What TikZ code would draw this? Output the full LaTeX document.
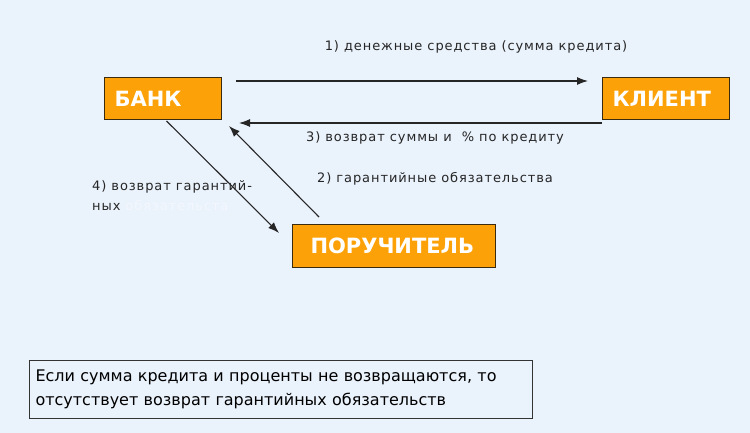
\documentclass[tikz,border=0pt]{standalone}
\usepackage{fontspec}
\setmainfont{DejaVu Sans}
\newfontfamily\lblfont[LetterSpace=7]{DejaVu Sans}
\usetikzlibrary{arrows.meta}
\definecolor{bg}{HTML}{EAF2FC}
\definecolor{boxor}{HTML}{FCA208}
\definecolor{boxline}{HTML}{3A2A10}
\definecolor{ghost}{HTML}{F4F8FE}
\tikzset{
  actor/.style={draw=boxline, line width=1pt, fill=boxor, text=white,
    font=\fontsize{21}{24}\selectfont\bfseries, align=left, inner xsep=10pt,
    inner ysep=0pt, minimum height=42pt, anchor=north west},
  flow/.style={line width=1.1pt, draw=black!85, -{Latex[length=11pt,width=8pt]}},
  lbl/.style={font=\lblfont\fontsize{13}{15}\selectfont, text=black!85, inner sep=0pt},
  note/.style={draw=black!80, line width=1pt, fill=bg, anchor=north west,
    text width=491pt, align=left, inner xsep=6pt, inner ysep=4pt, minimum height=58pt,
    font=\fontsize{16}{24.5}\selectfont}
}
\begin{document}
\begin{tikzpicture}[x=1pt,y=-1pt]
\fill[bg] (0,0) rectangle (750,433);
\useasboundingbox (0,0) rectangle (750,433);
\node[actor, text width=97pt] (bank) at (104,77) {БАНК};
\node[actor, text width=107pt] (client) at (602,77) {КЛИЕНТ};
\node[actor, text width=167pt, inner xsep=18pt, minimum height=43pt] (guar) at (292,224) {ПОРУЧИТЕЛЬ};
\node[note] (nt) at (29,360) {Если сумма кредита и проценты не возвращаются, то\\отсутствует возврат гарантийных обязательств};
\draw[flow] ([xshift=14pt,yshift=-4pt]bank.north east) -- ([xshift=-14pt,yshift=-4pt]client.north west);
\draw[flow] ([yshift=-3pt]client.south west) -- ([xshift=17pt,yshift=-3pt]bank.south east);
\draw[flow] ([xshift=27pt,yshift=7pt]guar.north west) -- ([xshift=7pt,yshift=-6pt]bank.south east);
\draw[flow] ([xshift=3.5pt,yshift=-1pt]bank.south) -- ([xshift=-13pt,yshift=-9pt]guar.north west);
\node[lbl] (l1) at (476,47) {1) денежные средства (сумма кредита)};
\node[lbl] (l3) at (435,138) {3) возврат суммы и \ \% по кредиту};
\node[lbl] (l2) at (435,179) {2) гарантийные обязательства};
\node[lbl, anchor=west] (l4) at (92,187) {4) возврат гарантий-};
\node[lbl, anchor=west] (l4b) at (92,206) {ных \textcolor{ghost}{обязательста}};
\end{tikzpicture}
\end{document}
